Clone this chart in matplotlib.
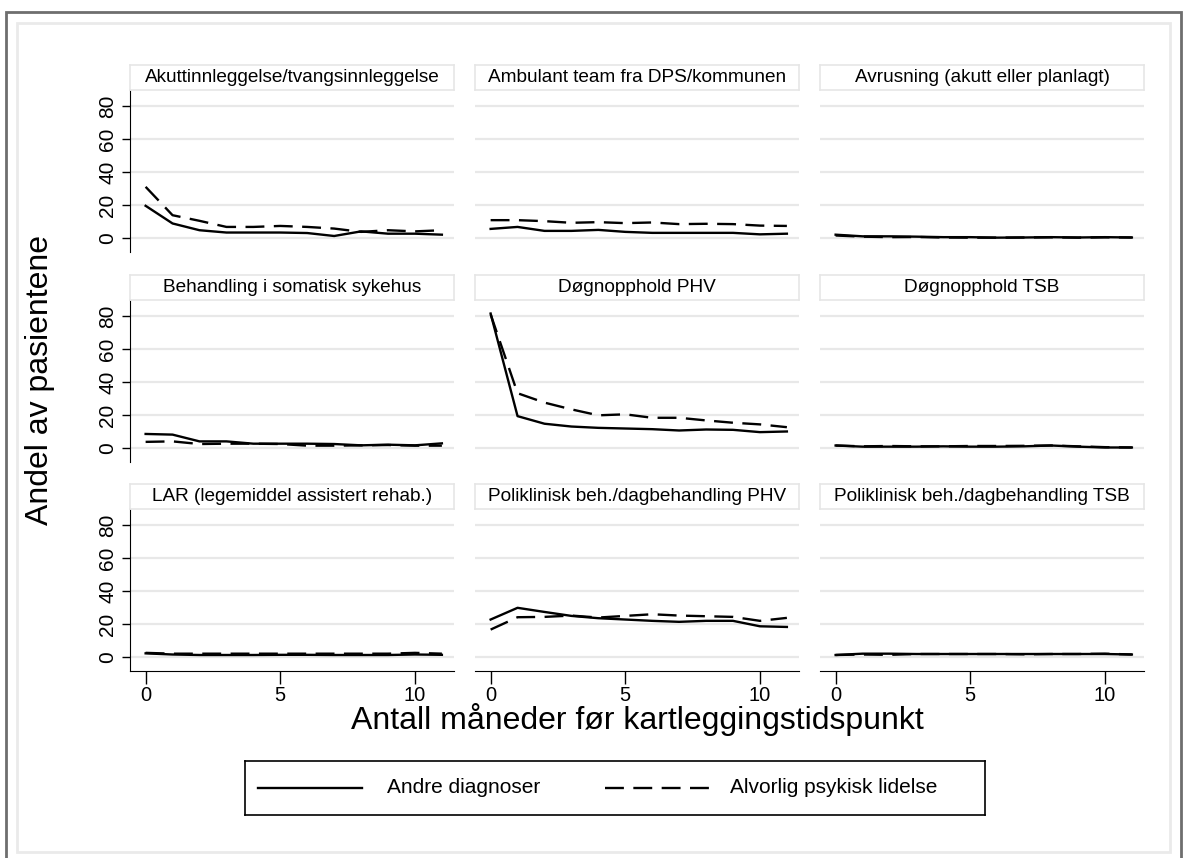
import matplotlib
matplotlib.use("Agg")
from matplotlib import pyplot as plt
from matplotlib.patches import Rectangle
import numpy as np

plt.rcParams['font.family'] = ['Liberation Sans', 'DejaVu Sans']

months = np.arange(12)

panel_titles = [
    "Akuttinnleggelse/tvangsinnleggelse",
    "Ambulant team fra DPS/kommunen",
    "Avrusning (akutt eller planlagt)",
    "Behandling i somatisk sykehus",
    "Døgnopphold PHV",
    "Døgnopphold TSB",
    "LAR (legemiddel assistert rehab.)",
    "Poliklinisk beh./dagbehandling PHV",
    "Poliklinisk beh./dagbehandling TSB",
]

# Andre diagnoser (solid)
andre_akutt = [19.5, 8.8, 4.7, 3.3, 3.3, 3.3, 3.0, 1.2, 4.0, 2.6, 2.6, 2.0]
andre_ambulant = [5.5, 6.7, 4.3, 4.3, 4.9, 3.7, 3.1, 3.1, 3.1, 3.1, 2.2, 2.6]
andre_avrusning = [2.0, 1.0, 1.0, 0.8, 0.5, 0.5, 0.2, 0.3, 0.5, 0.3, 0.5, 0.3]
andre_somatisk = [8.5, 8.1, 4.0, 4.0, 2.6, 2.6, 2.6, 2.4, 1.6, 2.0, 1.6, 2.8]
andre_dogn_phv = [81.5, 19.3, 14.7, 13.0, 12.2, 11.8, 11.4, 10.6, 11.2, 11.0, 9.6, 10.0]
andre_dogn_tsb = [1.5, 0.8, 0.8, 0.8, 1.0, 0.8, 0.8, 1.0, 1.5, 0.8, 0.3, 0.3]
andre_lar = [2.2, 1.5, 1.2, 1.2, 1.2, 1.3, 1.3, 1.2, 1.2, 1.2, 1.5, 1.3]
andre_pol_phv = [22.7, 29.8, 27.3, 24.9, 23.5, 22.7, 21.9, 21.3, 21.9, 21.9, 18.6, 18.2]
andre_pol_tsb = [1.2, 2.0, 2.0, 1.8, 1.8, 1.8, 1.8, 1.8, 1.8, 1.8, 1.8, 1.5]

# Alvorlig psykisk lidelse (dashed)
alv_akutt = [31.0, 13.8, 10.4, 6.7, 6.7, 7.3, 6.7, 5.7, 3.7, 4.7, 4.0, 4.7]
alv_ambulant = [10.8, 10.8, 10.2, 9.2, 9.6, 9.0, 9.4, 8.4, 8.6, 8.4, 7.5, 7.3]
alv_avrusning = [1.5, 0.8, 0.5, 0.6, 0.3, 0.2, 0.2, 0.3, 0.4, 0.2, 0.4, 0.3]
alv_somatisk = [3.7, 4.0, 2.4, 2.6, 2.6, 2.4, 1.4, 1.4, 1.6, 1.8, 1.4, 1.4]
alv_dogn_phv = [81.0, 33.2, 27.5, 23.4, 19.8, 20.4, 18.3, 18.3, 16.7, 15.3, 14.3, 12.6]
alv_dogn_tsb = [1.5, 1.0, 1.2, 1.0, 1.0, 1.2, 1.2, 1.3, 1.5, 1.0, 0.5, 0.3]
alv_lar = [2.5, 2.0, 2.0, 2.0, 2.0, 2.0, 2.0, 2.0, 2.0, 2.0, 2.5, 2.0]
alv_pol_phv = [16.6, 24.1, 24.3, 25.1, 23.9, 24.9, 25.9, 25.1, 24.7, 24.3, 21.9, 23.7]
alv_pol_tsb = [1.2, 1.5, 1.3, 1.8, 1.8, 1.8, 1.8, 1.6, 1.8, 1.8, 2.0, 1.5]

andre = [andre_akutt, andre_ambulant, andre_avrusning, andre_somatisk, andre_dogn_phv,
         andre_dogn_tsb, andre_lar, andre_pol_phv, andre_pol_tsb]
alvorlig = [alv_akutt, alv_ambulant, alv_avrusning, alv_somatisk, alv_dogn_phv,
            alv_dogn_tsb, alv_lar, alv_pol_phv, alv_pol_tsb]

W, H = 1184, 858
fig = plt.figure(figsize=(W / 100, H / 100), dpi=100)

# helpers: pixel coords -> figure fraction
def fx(x):
    return x / W

def fy(y):
    return 1 - y / H

fig.patches.append(Rectangle((fx(6), fy(870)), fx(1181) - fx(6), fy(12) - fy(870),
                             transform=fig.transFigure, fill=False,
                             edgecolor='#6e6e6e', linewidth=2))
fig.patches.append(Rectangle((fx(17), fy(852)), fx(1170) - fx(17), fy(23) - fy(852),
                             transform=fig.transFigure, fill=False,
                             edgecolor='#eaeaea', linewidth=2))

col_left = [130, 475, 820]
col_w = 324
row_top = [90, 300, 509]
row_h = 162
box_h = 25

ylo, yhi = -8.5, 89.7
xlo, xhi = -0.58, 11.45

for i in range(9):
    r, c = divmod(i, 3)
    x0 = col_left[c]
    y0 = row_top[r]
    ax = fig.add_axes([fx(x0), fy(y0 + row_h), fx(col_w), row_h / H])
    ax.set_xlim(xlo, xhi)
    ax.set_ylim(ylo, yhi)
    for g in [0, 20, 40, 60, 80]:
        ax.axhline(g, color='#e8e8e8', linewidth=1.6, zorder=0)
    ax.plot(months, andre[i], color='black', linewidth=1.7)
    ax.plot(months, alvorlig[i], color='black', linewidth=1.7, dashes=(8, 4))
    for s in ['top', 'right']:
        ax.spines[s].set_visible(False)
    ax.spines['left'].set_visible(c == 0)
    ax.spines['bottom'].set_visible(r == 2)
    ax.set_yticks([0, 20, 40, 60, 80])
    ax.set_xticks([0, 5, 10])
    if c == 0:
        ax.tick_params(axis='y', length=6, width=1, labelsize=15, pad=3)
        for lab in ax.get_yticklabels():
            lab.set_rotation(90)
            lab.set_va('center')
    else:
        ax.tick_params(axis='y', left=False, labelleft=False)
    if r == 2:
        ax.tick_params(axis='x', length=9, width=1, labelsize=14.5, pad=1.5)
    else:
        ax.tick_params(axis='x', bottom=False, labelbottom=False)
    # title box
    bax = fig.add_axes([fx(x0), fy(y0), fx(col_w), box_h / H])
    bax.set_xticks([])
    bax.set_yticks([])
    for s in bax.spines.values():
        s.set_edgecolor('#e6e6e6')
        s.set_linewidth(1.2)
    bax.text(0.5, 0.5, panel_titles[i], ha='center', va='center', fontsize=13.7)

fig.text(fx(40), fy(380), "Andel av pasientene", rotation=90, ha='center', va='center',
         fontsize=23)
fig.text(fx(637), fy(719), "Antall måneder før kartleggingstidspunkt", ha='center',
         va='center', fontsize=23)

# legend
lax = fig.add_axes([fx(245), fy(815), fx(985) - fx(245), (815 - 761) / H])
lax.set_xlim(245, 985)
lax.set_ylim(815, 761)
lax.set_xticks([])
lax.set_yticks([])
for s in lax.spines.values():
    s.set_linewidth(1.2)
lax.plot([258, 362], [788, 788], color='black', linewidth=1.7)
lax.text(387, 788, "Andre diagnoser", va='center', ha='left', fontsize=15)
lax.plot([605, 710], [788, 788], color='black', linewidth=1.7, dashes=(8, 4))
lax.text(730, 788, "Alvorlig psykisk lidelse", va='center', ha='left', fontsize=15)

fig.savefig("out.png", dpi=100)
